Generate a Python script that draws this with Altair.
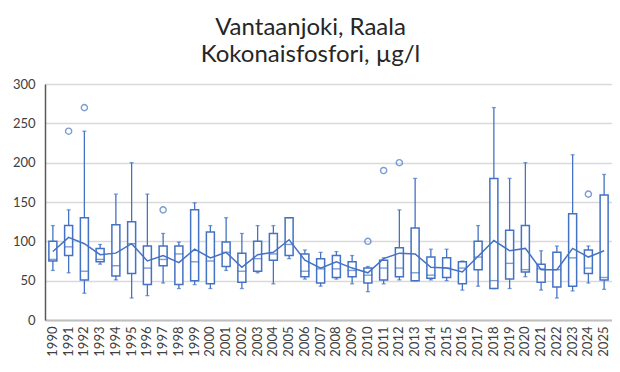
import altair as alt
import pandas as pd

years = [str(y) for y in range(1990, 2026)]
lo   = [63, 60, 34, 71, 51, 28, 31, 47, 40, 45, 40, 63, 40, 60, 46, 78, 52, 43, 52, 46, 36, 46, 51, 50, 51, 50, 38, 43, 40, 40, 55, 38, 28, 37, 47, 39]
q1   = [75, 82, 51, 74, 56, 59, 45, 69, 45, 50, 46, 68, 48, 62, 76, 82, 55, 47, 54, 55, 47, 51, 55, 50, 53, 54, 46, 64, 40, 52, 61, 48, 42, 43, 59, 51]
med  = [77, 93, 62, 77, 69, 97, 66, 77, 84, 74, 75, 86, 62, 78, 84, 96, 62, 65, 65, 63, 57, 66, 66, 60, 57, 66, 66, 80, 50, 72, 64, 65, 64, 79, 66, 54]
q3   = [100, 120, 130, 91, 121, 125, 94, 94, 94, 140, 112, 99, 85, 100, 110, 130, 84, 78, 82, 74, 66, 76, 92, 117, 80, 79, 74, 100, 180, 114, 120, 71, 86, 135, 89, 159]
hi   = [120, 140, 240, 96, 160, 200, 160, 110, 99, 149, 120, 130, 110, 120, 120, 130, 89, 86, 87, 82, 68, 79, 140, 180, 90, 90, 75, 120, 270, 180, 200, 88, 94, 210, 94, 185]
mean = [87, 105, 97, 83, 85, 97, 75, 82, 73, 90, 79, 86, 67, 83, 86, 102, 76, 66, 74, 66, 60, 78, 85, 84, 67, 66, 61, 81, 101, 88, 91, 64, 64, 91, 80, 88]

out_years = ["1991", "1992", "1997", "2010", "2011", "2012", "2024"]
out_vals  = [240, 270, 140, 100, 190, 200, 160]

df = pd.DataFrame(dict(year=years, lo=lo, q1=q1, med=med, q3=q3, hi=hi, mean=mean))
out = pd.DataFrame(dict(year=out_years, value=out_vals))

BLUE = "#4472C4"
FONT = "Lato"

x = alt.X(
    "year:N",
    sort=years,
    scale=alt.Scale(domain=years, paddingInner=0, paddingOuter=0),
    axis=alt.Axis(title=None, labelAngle=-90, ticks=False, grid=False,
                  domainColor="#bfbfbf", domainWidth=2,
                  labelFontSize=13, labelColor="#404040", labelPadding=6,
                  labelFont=FONT),
)
yscale = alt.Scale(domain=[0, 300], nice=False)
yaxis = alt.Axis(title=None, values=[0, 50, 100, 150, 200, 250, 300], ticks=False,
                 domainColor="#595959", domainWidth=1.5, gridColor="#d9d9d9",
                 gridWidth=1.3, labelFontSize=13, labelColor="#404040",
                 labelPadding=10, labelFont=FONT)

base = alt.Chart(df)

whisk = base.mark_rule(color=BLUE, strokeWidth=1.3).encode(
    x=x, y=alt.Y("lo:Q", scale=yscale, axis=yaxis), y2="hi:Q")
cap_lo = base.mark_tick(color=BLUE, size=4, thickness=1.3).encode(
    x=x, y=alt.Y("lo:Q", scale=yscale, axis=yaxis))
cap_hi = base.mark_tick(color=BLUE, size=4, thickness=1.3).encode(
    x=x, y=alt.Y("hi:Q", scale=yscale, axis=yaxis))
box = base.mark_bar(size=8, fill="white", stroke=BLUE, strokeWidth=1.5).encode(
    x=x, y=alt.Y("q1:Q", scale=yscale, axis=yaxis), y2="q3:Q")
median = base.mark_tick(color=BLUE, size=9, thickness=1.4).encode(
    x=x, y=alt.Y("med:Q", scale=yscale, axis=yaxis))
meanline = base.mark_line(color=BLUE, strokeWidth=1.5).encode(
    x=x, y=alt.Y("mean:Q", scale=yscale, axis=yaxis))
outl = alt.Chart(out).mark_point(shape="circle", filled=False, color=BLUE,
                                 size=38, strokeWidth=1.4).encode(
    x=x, y=alt.Y("value:Q", scale=yscale, axis=yaxis))

chart = alt.layer(whisk, box, median, meanline, cap_lo, cap_hi, outl).properties(
    width=567, height=236,
    title=alt.TitleParams(
        text=["Vantaanjoki, Raala", "Kokonaisfosfori, µg/l"],
        font=FONT, fontSize=24, fontWeight="normal", color="#262626",
        anchor="middle", dx=-18, offset=11, lineHeight=27),
    autosize=alt.AutoSizeParams(type="none"),
    padding={"left": 37, "top": 76, "right": 0, "bottom": 40},
).configure_view(stroke=None).configure(background="white")

chart.save("out.html", embed_options={"renderer": "svg", "actions": False})
